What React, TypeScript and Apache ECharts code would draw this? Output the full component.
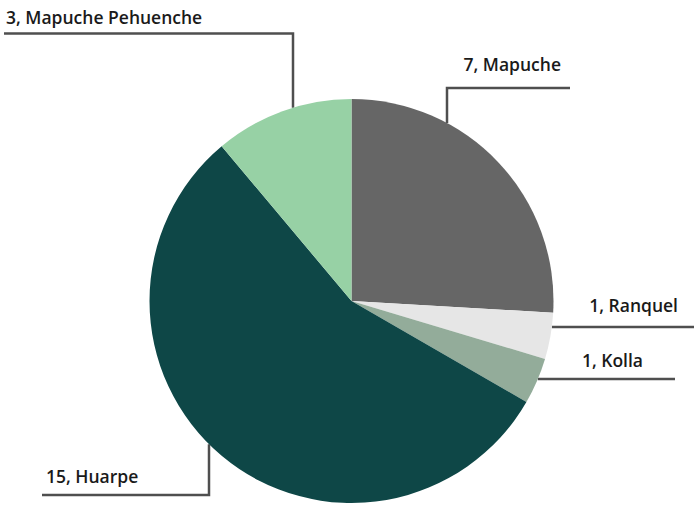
import React, { useEffect, useRef } from "react";
import * as echarts from "echarts";

const categories = ["Mapuche", "Ranquel", "Kolla", "Huarpe", "Mapuche Pehuenche"];
const values = [7, 1, 1, 15, 3];
const colors = ["#666666", "#e6e6e6", "#93ac9a", "#0e4747", "#97d1a5"];

// label placement (layout only): elbow type, line position, text anchor
const placements = [
  { kind: "v", x: 447, y: 88, endX: 570, textX: 561, textY: 64, align: "right" },
  { kind: "h", y: 327, endX: 700, textX: 678, textY: 305, align: "right" },
  { kind: "h", y: 379, endX: 675, textX: 643, textY: 360, align: "right" },
  { kind: "v", x: 209, y: 495, endX: 42, textX: 46, textY: 476, align: "left" },
  { kind: "v", x: 293, y: 33.5, endX: 4, textX: 6, textY: 16.5, align: "left" },
];

const CX = 351.5;
const CY = 301;
const R = 202;

export default function App() {
  const ref = useRef<HTMLDivElement>(null);
  useEffect(() => {
    if (!ref.current) return;
    const chart = echarts.init(ref.current, null, { renderer: "svg" });
    chart.setOption({
      animation: false,
      backgroundColor: "#ffffff",
      series: [
        {
          type: "pie",
          center: [CX, CY],
          radius: R,
          startAngle: 90,
          clockwise: true,
          avoidLabelOverlap: false,
          data: categories.map((name, i) => ({
            name,
            value: values[i],
            itemStyle: { color: colors[i] },
          })),
          label: {
            show: true,
            position: "outside",
            formatter: "{c}, {b}",
            color: "#1a1a1a",
            fontFamily: "Open Sans",
            fontSize: 17.5,
            fontWeight: 600,
          },
          labelLine: {
            show: true,
            length: 20,
            length2: 20,
            smooth: false,
            lineStyle: { color: "#4f4f4f", width: 2.5 },
          },
          emphasis: { disabled: true },
          labelLayout: (params: any) => {
            const p = placements[params.dataIndex];
            let pts: number[][];
            if (p.kind === "v") {
              const sign = p.y < CY ? -1 : 1;
              const y0 = CY + sign * Math.sqrt(R * R - (p.x! - CX) * (p.x! - CX));
              pts = [
                [p.x!, y0],
                [p.x!, p.y],
                [p.endX, p.y],
              ];
            } else {
              const x0 = CX + Math.sqrt(R * R - (p.y - CY) * (p.y - CY));
              pts = [
                [x0, p.y],
                [(x0 + p.endX) / 2, p.y],
                [p.endX, p.y],
              ];
            }
            return {
              x: p.textX,
              y: p.textY,
              align: p.align,
              verticalAlign: "middle",
              labelLinePoints: pts,
            };
          },
        },
      ],
    });
    return () => chart.dispose();
  }, []);
  return (
    <div
      ref={ref}
      style={{ position: "fixed", left: 0, top: 0, width: 694, height: 505 }}
    />
  );
}
